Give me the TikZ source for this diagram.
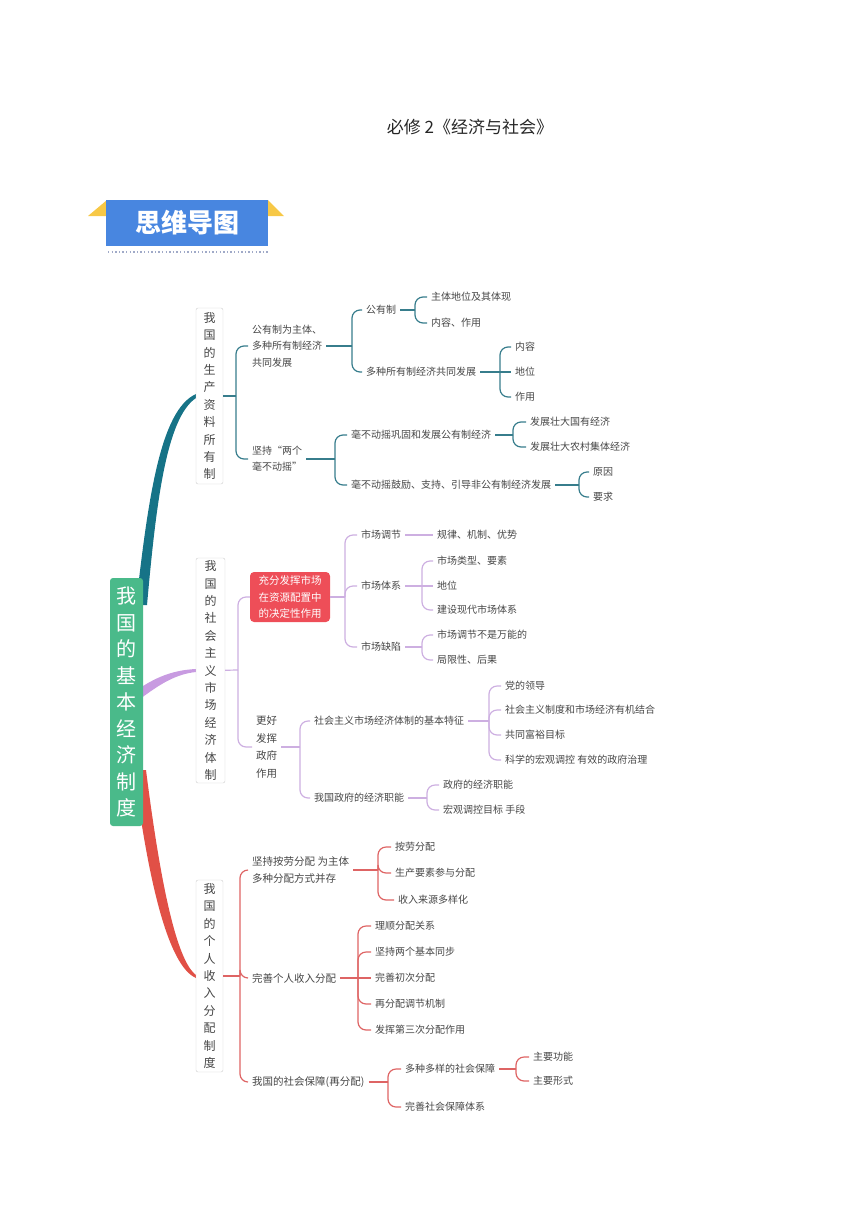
\documentclass[tikz,border=0pt]{standalone}
\usepackage{fontspec}
\setmainfont{Noto Sans CJK SC}
\usetikzlibrary{calc}
\definecolor{txt}{RGB}{70,70,70}
\definecolor{tealC}{RGB}{22,115,135}
\definecolor{tealL}{RGB}{55,125,140}
\definecolor{purC}{RGB}{200,155,225}
\definecolor{purL}{RGB}{205,175,225}
\definecolor{redC}{RGB}{225,80,70}
\definecolor{redL}{RGB}{222,100,100}
\definecolor{rootg}{RGB}{74,186,138}
\definecolor{rednode}{RGB}{238,78,88}
\definecolor{hblue}{RGB}{72,134,224}
\definecolor{hyel}{RGB}{247,200,70}
\definecolor{boxg}{RGB}{205,205,205}
\definecolor{dotc}{RGB}{160,170,200}
\tikzset{
  lbl/.style={anchor=west, inner xsep=4pt, inner ysep=2pt, xshift=-4pt, text=txt, font=\fontsize{10}{16.5}\selectfont, align=left},
  vbox/.style={draw=boxg, fill=white, rounded corners=2pt, align=center, inner sep=0pt, text=txt, font=\fontsize{12}{17.4}\selectfont},
  tl/.style={draw=tealL, line width=1.2pt, rounded corners=8pt},
  pl/.style={draw=purL, line width=1.2pt, rounded corners=8pt},
  rl/.style={draw=redL, line width=1.2pt, rounded corners=8pt},
}
\begin{document}
\begin{tikzpicture}[x=1pt,y=-1pt]
\useasboundingbox (0,0) rectangle (860,1216);

% title
\node[font=\fontsize{17}{20}\selectfont, text=black!85] (title) at (470,127) {必修 2《经济与社会》};

% header badge
\fill[hyel] (88,216) -- (107,200) -- (107,216) -- cycle;
\fill[hyel] (268,200) -- (284,216) -- (268,216) -- cycle;
\node[fill=hblue, minimum width=162, minimum height=46, inner sep=0pt, text=white, font=\fontsize{26}{28}\selectfont\bfseries] (hdr) at (187,223) {思维导图};
\draw[dotc, line width=1.4pt, dash pattern=on 1.4pt off 2.2pt] (108,252) -- (268,252);

% main tapered curves
\fill[tealC] (136,605) .. controls (148,500) and (160,410) .. (196,394) -- (196,398) .. controls (166,418) and (156,505) .. (147,605) -- cycle;
\fill[purC] (140,688) .. controls (158,676) and (175,670) .. (196,669) -- (196,672) .. controls (176,674) and (160,684) .. (140,699) -- cycle;
\fill[redC] (134,770) .. controls (148,880) and (168,966) .. (196,978) -- (196,975) .. controls (176,960) and (160,880) .. (146,770) -- cycle;

% root
\node[fill=rootg, rounded corners=3pt, minimum width=33, minimum height=248, inner sep=0pt, align=center, text=white, font=\fontsize{20}{26.5}\selectfont] (root) at (126.5,702) {我\\国\\的\\基\\本\\经\\济\\制\\度};

% ===== branch 1 =====
\node[vbox, minimum width=27, minimum height=176] (b1) at (209.5,396) {我\\国\\的\\生\\产\\资\\料\\所\\有\\制};
\coordinate (jb1) at (236,396);
\node[lbl] (A1) at (252,346) {公有制为主体、\\多种所有制经济\\共同发展};
\node[lbl, font=\fontsize{10}{16}\selectfont] (A2) at (252,459) {坚持“两个\\毫不动摇”};
\draw[tl] (b1) -- (jb1);
\draw[tl] (jb1) |- (A1.west);
\draw[tl] (jb1) |- (A2.west);

\coordinate (jA1) at (352,346);
\node[lbl] (A11) at (366,310) {公有制};
\node[lbl] (A12) at (366,372) {多种所有制经济共同发展};
\draw[tl] (A1) -- (jA1);
\draw[tl] (jA1) |- (A11.west);
\draw[tl] (jA1) |- (A12.west);

\coordinate (jA11) at (415,310);
\node[lbl] (A111) at (431,297) {主体地位及其体现};
\node[lbl] (A112) at (431,323) {内容、作用};
\draw[tl] (A11) -- (jA11);
\draw[tl] (jA11) |- (A111.west);
\draw[tl] (jA11) |- (A112.west);

\coordinate (jA12) at (500,372);
\node[lbl] (A121) at (515,347) {内容};
\node[lbl] (A122) at (515,372) {地位};
\node[lbl] (A123) at (515,397) {作用};
\draw[tl] (A12) -- (jA12);
\draw[tl] (jA12) |- (A121.west);
\draw[tl] (jA12) -- (A122.west);
\draw[tl] (jA12) |- (A123.west);

\coordinate (jA2) at (335,459);
\node[lbl] (A21) at (351,435) {毫不动摇巩固和发展公有制经济};
\node[lbl] (A22) at (351,485) {毫不动摇鼓励、支持、引导非公有制经济发展};
\draw[tl] (A2) -- (jA2);
\draw[tl] (jA2) |- (A21.west);
\draw[tl] (jA2) |- (A22.west);

\coordinate (jA21) at (513,435);
\node[lbl] (A211) at (530,422) {发展壮大国有经济};
\node[lbl] (A212) at (530,447) {发展壮大农村集体经济};
\draw[tl] (A21) -- (jA21);
\draw[tl] (jA21) |- (A211.west);
\draw[tl] (jA21) |- (A212.west);

\coordinate (jA22) at (579,485);
\node[lbl] (A221) at (593,472) {原因};
\node[lbl] (A222) at (593,497) {要求};
\draw[tl] (A22) -- (jA22);
\draw[tl] (jA22) |- (A221.west);
\draw[tl] (jA22) |- (A222.west);

% ===== branch 2 =====
\node[vbox, minimum width=29, minimum height=225] (b2) at (210.5,670.5) {我\\国\\的\\社\\会\\主\\义\\市\\场\\经\\济\\体\\制};
\coordinate (jb2) at (238,670);
\node[fill=rednode, rounded corners=4pt, minimum width=80, minimum height=50, inner sep=0pt, align=left, text=white, font=\fontsize{10.5}{16.5}\selectfont] (R) at (290,597) {充分发挥市场\\在资源配置中\\的决定性作用};
\node[lbl, font=\fontsize{10.5}{17.7}\selectfont] (B2) at (256,747) {更好\\发挥\\政府\\作用};
\draw[pl] (b2) -- (jb2);
\draw[pl] (jb2) |- (R.west);
\draw[pl] (jb2) |- (B2.west);

\coordinate (jR) at (345,597);
\node[lbl] (B11) at (361,535) {市场调节};
\node[lbl] (B12) at (361,586) {市场体系};
\node[lbl] (B13) at (361,647) {市场缺陷};
\draw[pl] (R) -- (jR);
\draw[pl] (jR) |- (B11.west);
\draw[pl] (jR) |- (B12.west);
\draw[pl] (jR) |- (B13.west);

\node[lbl] (B111) at (437,535) {规律、机制、优势};
\draw[pl] (B11) -- (B111);

\coordinate (jB12) at (422,586);
\node[lbl] (B121) at (437,561) {市场类型、要素};
\node[lbl] (B122) at (437,586) {地位};
\node[lbl] (B123) at (437,610) {建设现代市场体系};
\draw[pl] (B12) -- (jB12);
\draw[pl] (jB12) |- (B121.west);
\draw[pl] (jB12) -- (B122.west);
\draw[pl] (jB12) |- (B123.west);

\coordinate (jB13) at (422,647);
\node[lbl] (B131) at (437,635) {市场调节不是万能的};
\node[lbl] (B132) at (437,660) {局限性、后果};
\draw[pl] (B13) -- (jB13);
\draw[pl] (jB13) |- (B131.west);
\draw[pl] (jB13) |- (B132.west);

\coordinate (jB2) at (300,747);
\node[lbl] (B21) at (314,721) {社会主义市场经济体制的基本特征};
\node[lbl] (B22) at (314,798) {我国政府的经济职能};
\draw[pl] (B2) -- (jB2);
\draw[pl] (jB2) |- (B21.west);
\draw[pl] (jB2) |- (B22.west);

\coordinate (jB21) at (489,721);
\node[lbl] (B211) at (505,686) {党的领导};
\node[lbl] (B212) at (505,710) {社会主义制度和市场经济有机结合};
\node[lbl] (B213) at (505,735) {共同富裕目标};
\node[lbl] (B214) at (505,760) {科学的宏观调控 有效的政府治理};
\draw[pl] (B21) -- (jB21);
\draw[pl] (jB21) |- (B211.west);
\draw[pl] (jB21) |- (B212.west);
\draw[pl] (jB21) |- (B213.west);
\draw[pl] (jB21) |- (B214.west);

\coordinate (jB22) at (427,798);
\node[lbl] (B221) at (443,785) {政府的经济职能};
\node[lbl] (B222) at (443,810) {宏观调控目标 手段};
\draw[pl] (B22) -- (jB22);
\draw[pl] (jB22) |- (B221.west);
\draw[pl] (jB22) |- (B222.west);

% ===== branch 3 =====
\node[vbox, minimum width=27, minimum height=192] (b3) at (209.5,976) {我\\国\\的\\个\\人\\收\\入\\分\\配\\制\\度};
\coordinate (jb3) at (240,976);
\node[lbl, font=\fontsize{10.5}{17}\selectfont] (C1) at (252,870) {坚持按劳分配 为主体\\多种分配方式并存};
\node[lbl, font=\fontsize{10.5}{16}\selectfont] (C2) at (252,978) {完善个人收入分配};
\node[lbl, font=\fontsize{10.5}{16}\selectfont] (C3) at (252,1082) {我国的社会保障(再分配)};
\draw[rl] (b3) -- (jb3);
\draw[rl] (jb3) |- (C1.west);
\draw[rl] (jb3) |- (C2.west);
\draw[rl] (jb3) |- (C3.west);

\coordinate (jC1) at (378,870);
\node[lbl] (C11) at (395,847) {按劳分配};
\node[lbl] (C12) at (395,873) {生产要素参与分配};
\node[lbl] (C13) at (398,900) {收入来源多样化};
\draw[rl] (C1) -- (jC1);
\draw[rl] (jC1) |- (C11.west);
\draw[rl] (jC1) |- (C12.west);
\draw[rl] (jC1) |- (C13.west);

\coordinate (jC2) at (358,978);
\node[lbl] (C21) at (375,926) {理顺分配关系};
\node[lbl] (C22) at (375,952) {坚持两个基本同步};
\node[lbl] (C23) at (375,978) {完善初次分配};
\node[lbl] (C24) at (375,1004) {再分配调节机制};
\node[lbl] (C25) at (375,1030) {发挥第三次分配作用};
\draw[rl] (C2) -- (jC2);
\draw[rl] (jC2) |- (C21.west);
\draw[rl] (jC2) |- (C22.west);
\draw[rl] (jC2) -- (C23.west);
\draw[rl] (jC2) |- (C24.west);
\draw[rl] (jC2) |- (C25.west);

\coordinate (jC3) at (388,1082);
\node[lbl] (C31) at (405,1069) {多种多样的社会保障};
\node[lbl] (C32) at (405,1107) {完善社会保障体系};
\draw[rl] (C3) -- (jC3);
\draw[rl] (jC3) |- (C31.west);
\draw[rl] (jC3) |- (C32.west);

\coordinate (jC31) at (516,1069);
\node[lbl] (C311) at (533,1057) {主要功能};
\node[lbl] (C312) at (533,1081) {主要形式};
\draw[rl] (C31) -- (jC31);
\draw[rl] (jC31) |- (C311.west);
\draw[rl] (jC31) |- (C312.west);
\end{tikzpicture}
\end{document}
